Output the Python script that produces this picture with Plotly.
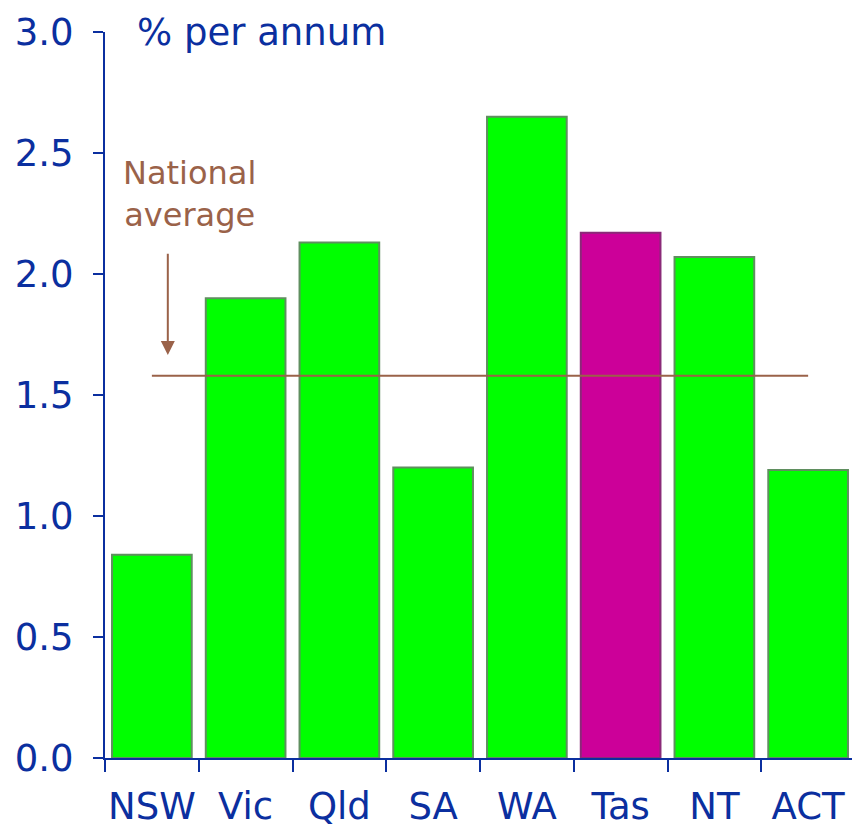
import plotly.graph_objects as go

states = ["NSW", "Vic", "Qld", "SA", "WA", "Tas", "NT", "ACT"]
growth = [0.84, 1.90, 2.13, 1.20, 2.65, 2.17, 2.07, 1.19]
national_avg = 1.58
y_ticks = [0.0, 0.5, 1.0, 1.5, 2.0, 2.5, 3.0]
y_tick_labels = ["0.0", "0.5", "1.0", "1.5", "2.0", "2.5", "3.0"]

BLUE = "#0b2f9f"
BROWN = "#9a6249"
fill = ["#cc0099" if s == "Tas" else "#00ff00" for s in states]
edge = ["#8a2a78" if s == "Tas" else "#5f8f5f" for s in states]

fig = go.Figure()
fig.add_trace(go.Bar(x=states, y=growth, marker=dict(color=fill, line=dict(color=edge, width=2)),
                     showlegend=False, hoverinfo="skip"))
fig.add_trace(go.Scatter(x=[states[0], states[-1]], y=[national_avg, national_avg], mode="lines",
                         line=dict(color=BROWN, width=2), showlegend=False, hoverinfo="skip"))

fig.add_annotation(x=0.17, y=1.665, ax=0.17, ay=2.09, xref="x", yref="y", axref="x", ayref="y",
                   text="", showarrow=True, arrowhead=2, arrowsize=1.4, arrowwidth=2, arrowcolor=BROWN)
fig.add_annotation(x=0.4, y=2.33, xref="x", yref="y", text="National<br>average", showarrow=False,
                   font=dict(family="DejaVu Sans", size=32, color=BROWN), align="center")
fig.add_annotation(x=0.04, y=1.0, xref="paper", yref="paper", text="% per annum", showarrow=False,
                   xanchor="left", yanchor="middle", font=dict(family="DejaVu Sans", size=37, color=BLUE))

fig.update_layout(
    width=855, height=831, margin=dict(l=105, r=0, t=32, b=73),
    plot_bgcolor="white", paper_bgcolor="white", bargap=0.15,
    font=dict(family="DejaVu Sans", color=BLUE),
)
fig.update_xaxes(showline=True, linecolor=BLUE, linewidth=2, ticks="outside", tickson="boundaries",
                 ticklen=12, tickcolor=BLUE, tickwidth=2, tickfont=dict(size=37, color=BLUE),
                 tickangle=0, showgrid=False, ticklabelstandoff=15, automargin=False)
fig.update_yaxes(range=[0, 3], showline=True, linecolor=BLUE, linewidth=2, ticks="outside", ticklen=10,
                 tickcolor=BLUE, tickwidth=2, tickvals=y_ticks, ticktext=y_tick_labels,
                 tickfont=dict(size=37, color=BLUE), showgrid=False, zeroline=False,
                 ticklabelstandoff=12, automargin=False)

fig.write_html("out.html", config={"displayModeBar": False},
               post_script="document.body.style.margin='0';document.body.style.overflow='hidden';")
